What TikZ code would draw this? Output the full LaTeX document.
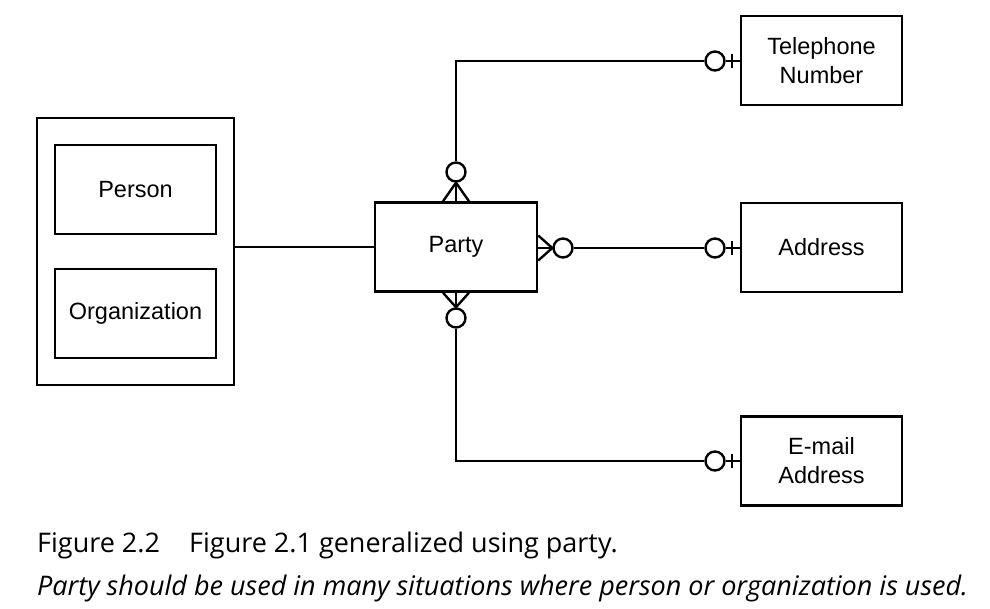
\documentclass[tikz,border=0pt]{standalone}
\usepackage{fontspec}
\setmainfont{Liberation Sans}
\newfontfamily\capfont{Open Sans}
\begin{document}
\begin{tikzpicture}[x=1pt,y=-1pt,line width=2.4pt,
  entity/.style={draw, minimum width=161pt, minimum height=89pt, align=center, font=\fontsize{23.5}{29}\selectfont},
  opt/.style={circle, draw, fill=white, minimum size=19pt, inner sep=0pt},
  caption/.style={anchor=base west, inner sep=0pt, font=\capfont\fontsize{27}{31}\selectfont}]
\useasboundingbox (0,0) rectangle (990,609);
\node[draw, minimum width=197pt, minimum height=267pt] (super) at (135.5,251.5){};
\node[entity] (person) at (135.5,189.5){Person};
\node[entity] (org) at (135.5,313.5){Organization};
\node[entity, minimum width=162pt] (party) at (456,247){Party};
\node[entity] (tel) at (821.5,60.5){Telephone\\Number};
\node[entity] (addr) at (821.5,247.5){Address};
\node[entity] (email) at (821.5,461){E-mail\\Address};
\draw[](party.west) -- (party.west -| super.east);
\node[opt] (ctop) at (456,172){};
\draw[](ctop.south) -- (party.north);
\draw[](ctop.south) -- ([xshift=-13pt]party.north);
\draw[](ctop.south) -- ([xshift=13pt]party.north);
\node[opt] (cright) at (563,248){};
\draw[](cright.west) -- (party.east |- cright);
\draw[](cright.west) -- ([yshift=12.5pt]party.east |- cright);
\draw[](cright.west) -- ([yshift=-12.5pt]party.east |- cright);
\node[opt] (cbot) at (456,318){};
\draw[](cbot.north) -- (party.south);
\draw[](cbot.north) -- ([xshift=-13pt]party.south);
\draw[](cbot.north) -- ([xshift=13pt]party.south);
\node[opt] (otel) at (715,61){};
\coordinate (ktel) at (456,61);
\draw[](ctop.north) -- (ktel) -- (otel.west);
\draw[](otel.east) -- (otel.east -| tel.west);
\coordinate (btel) at (732,61);
\draw[]([yshift=7pt]btel) -- ([yshift=-7pt]btel);
\node[opt] (oaddr) at (715,248){};
\draw[](cright.east) -- (oaddr.west);
\draw[](oaddr.east) -- (oaddr.east -| addr.west);
\coordinate (baddr) at (732,248);
\draw[]([yshift=7pt]baddr) -- ([yshift=-7pt]baddr);
\node[opt] (oemail) at (715,461){};
\coordinate (kemail) at (456,461);
\draw[](cbot.south) -- (kemail) -- (oemail.west);
\draw[](oemail.east) -- (oemail.east -| email.west);
\coordinate (bemail) at (732,461);
\draw[]([yshift=7pt]bemail) -- ([yshift=-7pt]bemail);
\node[caption] (fignum) at (36,552){Figure 2.2};
\node[caption] (figtitle) at (188,552){Figure 2.1 generalized using party.};
\node[caption, font=\capfont\itshape\fontsize{27}{31}\selectfont] (fignote) at (36,595){Party should be used in many situations where person or organization is used.};
\end{tikzpicture}
\end{document}
